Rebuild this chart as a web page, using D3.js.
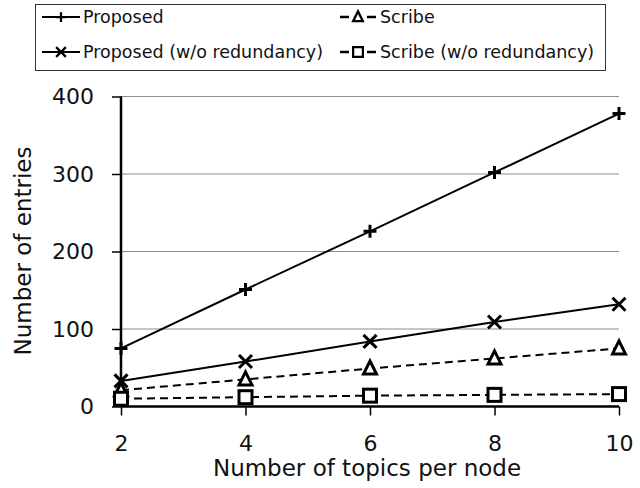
<!DOCTYPE html>
<html><head><meta charset="utf-8">
<script src="https://cdn.jsdelivr.net/npm/d3@7"></script>
<style>body{margin:0;background:#fff}svg{display:block}</style>
</head><body><svg id="c" width="640" height="488"></svg>
<script>
const topics = [2, 4, 6, 8, 10];
const proposed = [75, 151, 226, 302, 378];
const proposedNoRed = [33, 58, 84, 109, 132];
const scribe = [21, 35, 49, 62, 75];
const scribeNoRed = [10, 12, 14, 15, 16];
const yTicks = [0, 100, 200, 300, 400];
const seriesNames = ["Proposed", "Proposed (w/o redundancy)", "Scribe", "Scribe (w/o redundancy)"];

const series = [
  {name: seriesNames[0], values: proposed, dash: null, marker: "plus"},
  {name: seriesNames[1], values: proposedNoRed, dash: null, marker: "cross"},
  {name: seriesNames[2], values: scribe, dash: "8,5", marker: "tri"},
  {name: seriesNames[3], values: scribeNoRed, dash: "8,5", marker: "square"}
];

const svg = d3.select("#c");
const font = "'DejaVu Sans', Verdana, sans-serif";
const x = d3.scaleLinear().domain([2, 10]).range([121, 619]);
const y = d3.scaleLinear().domain([0, 400]).range([406.5, 96.5]);

// gridlines
svg.append("g").selectAll("line").data(yTicks.filter(d => d > 0)).join("line")
  .attr("x1", x(2)).attr("x2", x(10)).attr("y1", d => y(d)).attr("y2", d => y(d))
  .attr("stroke", "#8c8c8c").attr("stroke-width", 1);

// axes
const yAxis = svg.append("g").attr("transform", `translate(${x(2)},0)`)
  .call(d3.axisLeft(y).tickValues(yTicks).tickSize(9).tickPadding(18).tickFormat(d3.format("d")));
const xAxis = svg.append("g").attr("transform", `translate(0,${y(0)})`)
  .call(d3.axisBottom(x).tickValues(topics).tickSize(9).tickPadding(20).tickFormat(d3.format("d")));
[yAxis, xAxis].forEach(a => {
  a.select(".domain").attr("stroke", "#000").attr("stroke-width", 2.5);
  a.selectAll(".tick line").attr("stroke", "#000").attr("stroke-width", 1.5);
  a.selectAll("text").attr("font-family", font).attr("font-size", 22).attr("fill", "#111");
});
yAxis.select(".domain").attr("d", `M0,${y(0)}V${y(400)}`);
xAxis.select(".domain").attr("d", `M${x(2)},0H${x(10)}`);

// axis titles
svg.append("text").attr("x", 367).attr("y", 476).attr("text-anchor", "middle")
  .attr("font-family", font).attr("font-size", 23).attr("fill", "#111")
  .text("Number of topics per node");
svg.append("text").attr("transform", "translate(31,251) rotate(-90)").attr("text-anchor", "middle")
  .attr("font-family", font).attr("font-size", 23).attr("fill", "#111")
  .text("Number of entries");

function drawMarker(g, type, cx, cy) {
  const s = 6.5;
  if (type === "plus") {
    g.append("path").attr("d", `M${cx - s},${cy}H${cx + s}M${cx},${cy - s}V${cy + s}`)
      .attr("stroke", "#000").attr("stroke-width", 3).attr("fill", "none");
  } else if (type === "cross") {
    g.append("path").attr("d", `M${cx - s},${cy - s}L${cx + s},${cy + s}M${cx - s},${cy + s}L${cx + s},${cy - s}`)
      .attr("stroke", "#000").attr("stroke-width", 3).attr("fill", "none");
  } else if (type === "tri") {
    g.append("path").attr("d", `M${cx},${cy - 7.5}L${cx + 6.5},${cy + 5.5}L${cx - 6.5},${cy + 5.5}Z`)
      .attr("stroke", "#000").attr("stroke-width", 3).attr("fill", "#fff").attr("stroke-linejoin", "miter");
  } else {
    g.append("rect").attr("x", cx - 6.5).attr("y", cy - 6.5).attr("width", 13).attr("height", 13)
      .attr("stroke", "#000").attr("stroke-width", 3).attr("fill", "#fff");
  }
}

const line = d3.line().x((d, i) => x(topics[i])).y(d => y(d));
series.forEach(s => {
  svg.append("path").datum(s.values).attr("d", line)
    .attr("fill", "none").attr("stroke", "#000").attr("stroke-width", 2)
    .attr("stroke-dasharray", s.dash);
});
series.forEach(s => {
  const g = svg.append("g");
  s.values.forEach((v, i) => drawMarker(g, s.marker, x(topics[i]), y(v)));
});

// legend
const leg = svg.append("g");
leg.append("rect").attr("x", 35.5).attr("y", 4.5).attr("width", 570).attr("height", 66)
  .attr("fill", "#fff").attr("stroke", "#333").attr("stroke-width", 1);
const legPos = [[42, 17], [42, 52], [340, 17], [340, 52]];
series.forEach((s, i) => {
  const [lx, ly] = legPos[i];
  const g = leg.append("g");
  if (s.dash) {
    g.append("path").attr("d", `M${lx},${ly}H${lx + 9}M${lx + 27},${ly}H${lx + 36}`)
      .attr("stroke", "#000").attr("stroke-width", 2.5);
  } else {
    g.append("line").attr("x1", lx).attr("x2", lx + 38).attr("y1", ly).attr("y2", ly)
      .attr("stroke", "#000").attr("stroke-width", 2);
  }
  const mx = lx + (s.dash ? 18 : 19);
  const gm = g.append("g").attr("transform", `translate(${mx},${ly}) scale(0.75) translate(${-mx},${-ly})`);
  drawMarker(gm, s.marker, mx, ly);
  g.append("text").attr("x", lx + (s.dash ? 40 : 41)).attr("y", ly + 6).attr("font-family", font).attr("font-size", 17.5)
    .attr("fill", "#111").text(s.name);
});
</script></body></html>
